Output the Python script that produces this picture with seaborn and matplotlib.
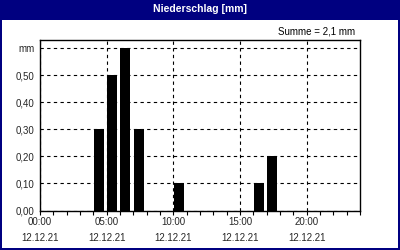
import matplotlib
matplotlib.use("Agg")
import matplotlib.pyplot as plt
import seaborn as sns
import numpy as np
import pandas as pd
from matplotlib.patches import Rectangle

# Data
hours = [4, 5, 6, 7, 10, 16, 17]
values = [0.3, 0.5, 0.6, 0.3, 0.1, 0.1, 0.2]
x_major = [0, 5, 10, 15, 20]
x_labels = ["00:00\n12.12.21", "05:00\n12.12.21", "10:00\n12.12.21",
            "15:00\n12.12.21", "20:00\n12.12.21"]
y_ticks = [0.0, 0.1, 0.2, 0.3, 0.4, 0.5, 0.6]
y_labels = ["0,00", "0,10", "0,20", "0,30", "0,40", "0,50", "mm"]
title = "Niederschlag [mm]"
summe = "Summe = 2,1 mm"

sns.set_style("white")
plt.rcParams['font.family'] = ['Liberation Sans', 'DejaVu Sans']

navy = "#000080"
fig = plt.figure(figsize=(4, 2.5), dpi=100, facecolor=navy)
fig.patches.append(Rectangle((2/400, 2/250), 396/400, 228/250,
                             transform=fig.transFigure, facecolor="white",
                             edgecolor="none", zorder=-10))
ax = fig.add_axes([40/400, 39.5/250, 320/400, 170.5/250])
ax.set_facecolor("white")

df = pd.DataFrame({"x": np.array(hours) + 0.4, "v": values})
sns.barplot(data=df, x="x", y="v", native_scale=True, width=0.75,
            color="black", saturation=1, edgecolor="none", ax=ax, zorder=3)

ax.set_xlim(0, 24)
ax.set_ylim(0, 0.63)
ax.set_xticks(x_major)
ax.set_xticklabels(x_labels, fontsize=7, linespacing=1.65)
ax.set_xticks(range(0, 25), minor=True)
ax.set_yticks(y_ticks)
ax.set_yticklabels(y_labels, fontsize=7)
ax.set_xlabel("")
ax.set_ylabel("")
ax.tick_params(axis="x", which="both", direction="out", length=3, width=0.8,
               color="black", bottom=True, pad=2)
ax.tick_params(axis="y", length=0, pad=4)
for s in ax.spines.values():
    s.set_visible(True)
    s.set_color("black")
    s.set_linewidth(1.0)
ax.grid(True, which="major", axis="both", color="black", linestyle=(0, (3, 3)),
        linewidth=0.8)
ax.set_axisbelow(True)

fig.text(0.5, 1 - 9/250, title, ha="center", va="center", color="white",
         fontsize=7.5, fontweight="bold")
fig.text(355/400, 1 - 31/250, summe, ha="right", va="center", color="black",
         fontsize=7)

fig.savefig("out.png", dpi=100, facecolor=navy)
